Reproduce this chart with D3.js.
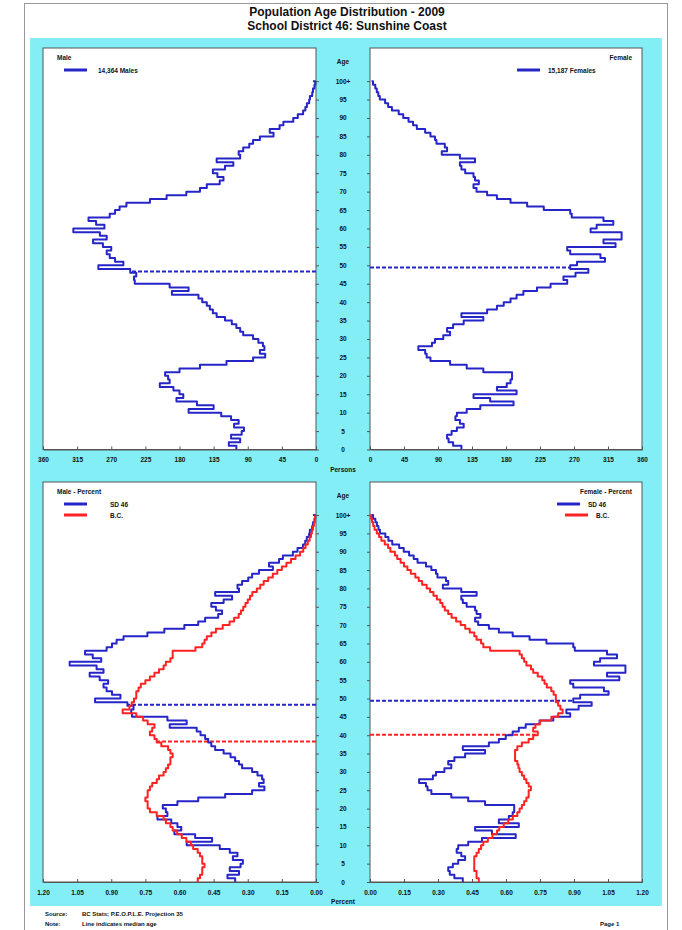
<!DOCTYPE html>
<html>
<head>
<meta charset="utf-8">
<script src="https://cdn.jsdelivr.net/npm/d3@7"></script>
<style>
body { margin: 0; background: #fff; }
text { font-family: "Liberation Sans", Arial, sans-serif; font-weight: bold; fill: #111; }
</style>
</head>
<body>
<svg width="682" height="930"></svg>
<script>
// Single-year ages, 0 .. 100+
var ages = d3.range(0, 101);
var ageTicks = d3.range(0, 101, 5);
var countTicks = d3.range(0, 361, 45);
var pctTicks = [0, 0.15, 0.30, 0.45, 0.60, 0.75, 0.90, 1.05, 1.20];

// SD 46 persons by age
var maleCount = [
  105, 115, 100, 112, 98, 95, 108, 102, 112, 125,
  168, 135, 157, 184, 175, 180, 188, 206, 193, 195,
  199, 180, 153, 118, 83, 67, 74, 68, 70, 76,
  83, 96, 100, 105, 111, 120, 131, 136, 140, 144,
  150, 155, 190, 168, 193, 239, 240, 237, 245, 287,
  254, 265, 272, 276, 270, 281, 294, 276, 285, 320,
  279, 290, 300, 272, 265, 259, 250, 219, 197, 171,
  153, 144, 127, 122, 130, 136, 120, 109, 131, 100,
  102, 96, 88, 83, 74, 56, 61, 48, 43, 30,
  24, 17, 14, 12, 9, 8, 5, 4, 2, 1,
  4
];
var femaleCount = [
  121, 110, 104, 102, 108, 115, 124, 119, 113, 115,
  128, 146, 190, 159, 137, 194, 168, 181, 186, 188,
  188, 150, 128, 106, 80, 75, 73, 64, 82, 86,
  97, 106, 102, 110, 124, 150, 121, 155, 168, 177,
  186, 194, 203, 221, 239, 261, 256, 272, 289, 265,
  274, 311, 305, 265, 261, 325, 309, 333, 333, 292,
  300, 322, 309, 267, 265, 230, 208, 186, 168, 155,
  141, 137, 144, 139, 137, 126, 121, 119, 139, 119,
  95, 102, 99, 88, 86, 80, 73, 62, 57, 51,
  44, 38, 29, 24, 20, 13, 11, 9, 7, 4,
  2
];
var maleTotal = 14364;
var femaleTotal = 15187;

// B.C. percent by age
var bcMalePct = [
  0.52, 0.51, 0.50, 0.50, 0.49, 0.50, 0.50, 0.51, 0.52, 0.54,
  0.55, 0.57, 0.59, 0.61, 0.63, 0.64, 0.66, 0.67, 0.70, 0.73,
  0.74, 0.74, 0.75, 0.74, 0.74, 0.73, 0.72, 0.70, 0.69, 0.67,
  0.66, 0.65, 0.64, 0.64, 0.63, 0.64, 0.65, 0.68, 0.70, 0.71,
  0.73, 0.72, 0.71, 0.74, 0.76, 0.79, 0.85, 0.82, 0.81, 0.80,
  0.79, 0.79, 0.78, 0.77, 0.75, 0.73, 0.71, 0.69, 0.67, 0.66,
  0.64, 0.63, 0.63, 0.53, 0.50, 0.49, 0.48, 0.46, 0.44, 0.41,
  0.38, 0.36, 0.34, 0.33, 0.32, 0.31, 0.30, 0.29, 0.28, 0.26,
  0.245, 0.23, 0.21, 0.19, 0.17, 0.15, 0.13, 0.11, 0.09, 0.07,
  0.056, 0.046, 0.036, 0.028, 0.022, 0.018, 0.013, 0.009, 0.006, 0.004,
  0.005
];
var bcFemalePct = [
  0.48, 0.47, 0.47, 0.46, 0.46, 0.46, 0.46, 0.47, 0.48, 0.49,
  0.50, 0.52, 0.54, 0.56, 0.57, 0.59, 0.61, 0.63, 0.65, 0.66,
  0.67, 0.68, 0.69, 0.70, 0.70, 0.71, 0.70, 0.69, 0.68, 0.67,
  0.66, 0.655, 0.65, 0.64, 0.64, 0.64, 0.65, 0.67, 0.70, 0.72,
  0.74, 0.72, 0.73, 0.75, 0.80, 0.83, 0.85, 0.84, 0.83, 0.82,
  0.82, 0.81, 0.80, 0.78, 0.77, 0.76, 0.74, 0.72, 0.71, 0.69,
  0.68, 0.67, 0.66, 0.53, 0.50, 0.49, 0.47, 0.46, 0.44, 0.42,
  0.40, 0.38, 0.36, 0.345, 0.33, 0.32, 0.31, 0.295, 0.28, 0.265,
  0.25, 0.23, 0.215, 0.20, 0.18, 0.165, 0.15, 0.135, 0.12, 0.11,
  0.09, 0.08, 0.065, 0.05, 0.04, 0.03, 0.02, 0.014, 0.009, 0.005,
  0.01
];

// Median ages
var medianSD = { male: 48.3, female: 49.4 };
var medianBC = { male: 38.3, female: 40.1 };

var blue = "#2626c8", red = "#ff2222", cyan = "#84eef6";

var svg = d3.select("svg");

// page frame and title
svg.append("rect").attr("x", 24.5).attr("y", 3.5).attr("width", 643).attr("height", 940)
  .attr("fill", "#fff").attr("stroke", "#999");
svg.append("text").attr("x", 347).attr("y", 16).attr("text-anchor", "middle")
  .style("font-size", "12px").text("Population Age Distribution - 2009");
svg.append("text").attr("x", 347).attr("y", 29.5).attr("text-anchor", "middle")
  .style("font-size", "12px").text("School District 46: Sunshine Coast");

svg.append("rect").attr("x", 30).attr("y", 38).attr("width", 632).attr("height", 868)
  .attr("fill", cyan);

// footer
var foot = svg.append("g").style("font-size", "6px");
foot.append("text").attr("x", 45).attr("y", 916).text("Source:");
foot.append("text").attr("x", 82).attr("y", 916).text("BC Stats; P.E.O.P.L.E. Projection 35");
foot.append("text").attr("x", 45).attr("y", 926).text("Note:");
foot.append("text").attr("x", 82).attr("y", 926).text("Line indicates median age");
foot.append("text").attr("x", 600).attr("y", 926).text("Page 1");

// geometry
var leftX = [43, 316], rightX = [370, 642];
var topY = [449.5, 48], botY = [882, 482];
var centerX = (leftX[1] + rightX[0]) / 2;

function stepPoints(vals) {
  var pts = [];
  vals.forEach(function(v, a) {
    pts.push([v, a]);
    if (a < 100) pts.push([v, a + 1]);
  });
  return pts;
}

function panel(opt) {
  var x = d3.scaleLinear().domain([0, opt.max]).range(opt.side === "left" ? [leftX[1], leftX[0]] : [rightX[0], rightX[1]]);
  var y = d3.scaleLinear().domain([0, 109]).range(opt.yr);
  var g = svg.append("g");

  g.append("rect")
    .attr("x", Math.min(x.range()[0], x.range()[1]))
    .attr("y", opt.yr[1])
    .attr("width", Math.abs(x.range()[1] - x.range()[0]))
    .attr("height", opt.yr[0] - opt.yr[1])
    .attr("fill", "#fff").attr("stroke", "#555").attr("stroke-width", 1);

  // x axis
  var xa = g.append("g").attr("transform", "translate(0," + opt.yr[0] + ")")
    .call(d3.axisBottom(x).tickValues(opt.ticks).tickSize(-3).tickPadding(8).tickFormat(opt.fmt));
  xa.select(".domain").attr("stroke", "#555");
  xa.selectAll(".tick line").attr("stroke", "#555");
  xa.selectAll("text").style("font-size", "6.5px").style("font-family", "Liberation Sans").style("font-weight", "bold");

  // age ticks on the inner edge
  var edge = opt.side === "left" ? leftX[1] : rightX[0];
  var ya = g.append("g").attr("transform", "translate(" + edge + ",0)")
    .call((opt.side === "left" ? d3.axisRight(y) : d3.axisLeft(y)).tickValues(ageTicks).tickSize(3).tickFormat(""));
  ya.select(".domain").remove();
  ya.selectAll(".tick line").attr("stroke", "#555");

  // median lines
  opt.medians.forEach(function(m) {
    var v = m.vals[Math.floor(m.age)];
    g.append("line")
      .attr("x1", x(0)).attr("x2", x(v))
      .attr("y1", y(m.age)).attr("y2", y(m.age))
      .attr("stroke", m.color).attr("stroke-width", 2).attr("stroke-dasharray", "4,2");
  });

  // profiles
  var line = d3.line().x(function(d) { return x(d[0]); }).y(function(d) { return y(d[1]); });
  opt.series.forEach(function(s) {
    g.append("path").datum(stepPoints(s.vals))
      .attr("d", line).attr("fill", "none")
      .attr("stroke", s.color).attr("stroke-width", 2).attr("stroke-linejoin", "round");
  });

  // legend
  var lg = g.append("g").style("font-size", "6.5px");
  if (opt.side === "left") {
    lg.append("text").attr("x", 57).attr("y", opt.yr[1] + 12).text(opt.title);
    opt.series.forEach(function(s, i) {
      var ly = opt.yr[1] + 22 + i * 11;
      lg.append("line").attr("x1", 64).attr("x2", 87).attr("y1", ly).attr("y2", ly)
        .attr("stroke", s.color).attr("stroke-width", 3);
      lg.append("text").attr("x", opt.labelX).attr("y", ly + 2.5).text(s.label);
    });
  } else {
    lg.append("text").attr("x", 632).attr("y", opt.yr[1] + 12).attr("text-anchor", "end").text(opt.title);
    opt.series.forEach(function(s, i) {
      var ly = opt.yr[1] + 22 + i * 11;
      var lx = opt.legendX[i];
      lg.append("line").attr("x1", lx).attr("x2", lx + 23).attr("y1", ly).attr("y2", ly)
        .attr("stroke", s.color).attr("stroke-width", 3);
      lg.append("text").attr("x", lx + 31).attr("y", ly + 2.5).text(s.label);
    });
  }
  return y;
}

var sdTotal = maleTotal + femaleTotal;
var malePct = maleCount.map(function(v) { return v / sdTotal * 100; });
var femalePct = femaleCount.map(function(v) { return v / sdTotal * 100; });
var fmtCount = d3.format("d"), fmtPct = d3.format(".2f");

var yT = panel({ side: "left", max: 360, ticks: countTicks, fmt: fmtCount, yr: topY, title: "Male", labelX: 98,
  series: [{ vals: maleCount, color: blue, label: d3.format(",")(maleTotal) + " Males" }],
  medians: [{ age: medianSD.male, vals: maleCount, color: blue }] });
panel({ side: "right", max: 360, ticks: countTicks, fmt: fmtCount, yr: topY, title: "Female", legendX: [517],
  series: [{ vals: femaleCount, color: blue, label: d3.format(",")(femaleTotal) + " Females" }],
  medians: [{ age: medianSD.female, vals: femaleCount, color: blue }] });
var yB = panel({ side: "left", max: 1.2, ticks: pctTicks, fmt: fmtPct, yr: botY, title: "Male - Percent", labelX: 110,
  series: [{ vals: malePct, color: blue, label: "SD 46" }, { vals: bcMalePct, color: red, label: "B.C." }],
  medians: [{ age: medianSD.male, vals: malePct, color: blue }, { age: medianBC.male, vals: bcMalePct, color: red }] });
panel({ side: "right", max: 1.2, ticks: pctTicks, fmt: fmtPct, yr: botY, title: "Female - Percent", legendX: [557, 565],
  series: [{ vals: femalePct, color: blue, label: "SD 46" }, { vals: bcFemalePct, color: red, label: "B.C." }],
  medians: [{ age: medianSD.female, vals: femalePct, color: blue }, { age: medianBC.female, vals: bcFemalePct, color: red }] });

// centre age labels
[[yT, topY, "Persons"], [yB, botY, "Percent"]].forEach(function(p) {
  var c = svg.append("g").style("font-size", "6.5px").attr("text-anchor", "middle");
  c.append("text").attr("x", centerX).attr("y", p[1][1] + 16).text("Age");
  ageTicks.forEach(function(a) {
    c.append("text").attr("x", centerX).attr("y", p[0](a) + 2.5).text(a === 100 ? "100+" : a);
  });
  c.append("text").attr("x", centerX).attr("y", p[1][0] + 22).text(p[2]);
});
</script>
</body>
</html>
